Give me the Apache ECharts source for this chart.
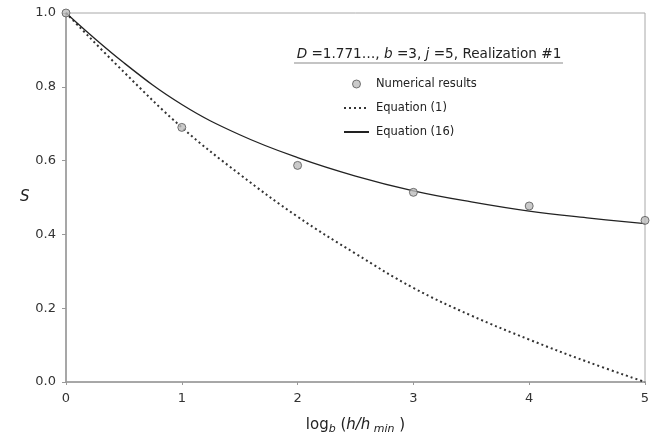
<!DOCTYPE html>
<html><head><meta charset="utf-8">
<script src="https://cdn.jsdelivr.net/npm/echarts@6/dist/echarts.min.js"></script>
<style>html,body{margin:0;padding:0;background:#fff}#c{width:656px;height:440px}</style>
</head><body><div id="c"></div>
<script>
// Numerical results
var numX = [0, 1, 2, 3, 4, 5];
var numS = [1.0, 0.690, 0.587, 0.514, 0.477, 0.438];
// Equation (1) (dotted)
var eq1X = [0, 0.5, 1, 1.5, 2, 2.5, 3, 3.5, 4, 4.5, 5];
var eq1S = [1.0, 0.84, 0.69, 0.563, 0.448, 0.348, 0.255, 0.18, 0.115, 0.055, 0.0];
// Equation (16) (solid)
var eq16X = [0, 0.5, 1, 1.5, 2, 2.5, 3, 3.5, 4, 4.5, 5];
var eq16S = [1.0, 0.865, 0.752, 0.67, 0.608, 0.558, 0.518, 0.488, 0.463, 0.445, 0.429];
var yTicks = [0.0, 0.2, 0.4, 0.6, 0.8, 1.0];
var xTicks = [0, 1, 2, 3, 4, 5];

function pairs(xs, ys){ return xs.map(function(x,i){return [x, ys[i]];}); }

var font = 'DejaVu Sans, Verdana, sans-serif';
var chart = echarts.init(document.getElementById('c'), null, {renderer:'canvas'});
chart.setOption({
  animation: false,
  backgroundColor: '#fff',
  textStyle: {fontFamily: font},
  grid: {left: 66, right: 11, top: 13, bottom: 58, show: true, borderColor: '#a8a8a8', borderWidth: 1},
  title: {
    text: '{i|D} =1.771…, {i|b} =3, {i|j} =5, Realization #1',
    left: 424, top: 42, textAlign: 'center',
    textStyle: {
      fontFamily: font, fontSize: 13.6, fontWeight: 'normal', color: '#222',
      rich: {i: {fontStyle: 'italic', fontFamily: font, fontSize: 13.6, color: '#222'}}
    }
  },
  graphic: [{
    type: 'line', shape: {x1: 294, y1: 63, x2: 563, y2: 63},
    style: {stroke: '#b0b0b0', lineWidth: 1.5}
  }],
  legend: {
    orient: 'vertical', left: 338, top: 73,
    itemWidth: 25, itemHeight: 8, itemGap: 12,
    textStyle: {fontFamily: font, fontSize: 11.5, color: '#222', padding: [0,0,0,2]},
    data: [
      {name: 'Numerical results', icon: 'circle', itemStyle: {color: '#bdbdbd', borderColor: '#555', borderWidth: 1}},
      {name: 'Equation (1)', itemStyle: {opacity: 0}},
      {name: 'Equation (16)', itemStyle: {opacity: 0}}
    ]
  },
  xAxis: {
    type: 'value', min: 0, max: 5, interval: 1,
    name: '{n|log}{s|b}{n| (}{i|h/h}{s| min}{n| )}',
    nameLocation: 'middle', nameGap: 34,
    nameTextStyle: {
      rich: {
        n: {fontFamily: font, fontSize: 15, color: '#222'},
        i: {fontFamily: font, fontSize: 15, fontStyle: 'italic', color: '#222'},
        s: {fontFamily: font, fontSize: 11, fontStyle: 'italic', color: '#222', verticalAlign: 'bottom', padding: [8,0,0,0]}
      }
    },
    axisLine: {show: true, lineStyle: {color: '#999', width: 1.5}},
    axisTick: {show: true, length: 3, lineStyle: {color: '#999'}},
    splitLine: {show: false},
    axisLabel: {fontFamily: font, fontSize: 13, color: '#333', margin: 10,
      formatter: function(v){ return xTicks.indexOf(v) >= 0 ? String(v) : ''; }}
  },
  yAxis: {
    type: 'value', min: 0, max: 1, interval: 0.2,
    name: 'S', nameLocation: 'middle', nameGap: 31, nameRotate: 0,
    nameTextStyle: {fontFamily: font, fontSize: 15, fontStyle: 'italic', color: '#222'},
    axisLine: {show: true, lineStyle: {color: '#999', width: 1.5}},
    axisTick: {show: true, length: 4, lineStyle: {color: '#999'}},
    splitLine: {show: false},
    axisLabel: {fontFamily: font, fontSize: 13, color: '#333', margin: 10,
      formatter: function(v){ var t = yTicks.filter(function(y){return Math.abs(y-v)<1e-9;}); return t.length ? t[0].toFixed(1) : ''; }}
  },
  series: [
    {
      name: 'Equation (1)', type: 'line', data: pairs(eq1X, eq1S), smooth: 0.4,
      showSymbol: false, symbol: 'none', clip: false,
      lineStyle: {color: '#333', width: 2, type: [2, 3]},
      itemStyle: {color: '#333'}, z: 2
    },
    {
      name: 'Equation (16)', type: 'line', data: pairs(eq16X, eq16S), smooth: 0.4,
      showSymbol: false, symbol: 'none', clip: false,
      lineStyle: {color: '#222', width: 1.3, type: 'solid'},
      itemStyle: {color: '#222'}, z: 3
    },
    {
      name: 'Numerical results', type: 'scatter', data: pairs(numX, numS),
      symbol: 'circle', symbolSize: 8, clip: false,
      itemStyle: {color: '#bdbdbd', borderColor: '#555', borderWidth: 1}, z: 5
    }
  ]
});
</script></body></html>
